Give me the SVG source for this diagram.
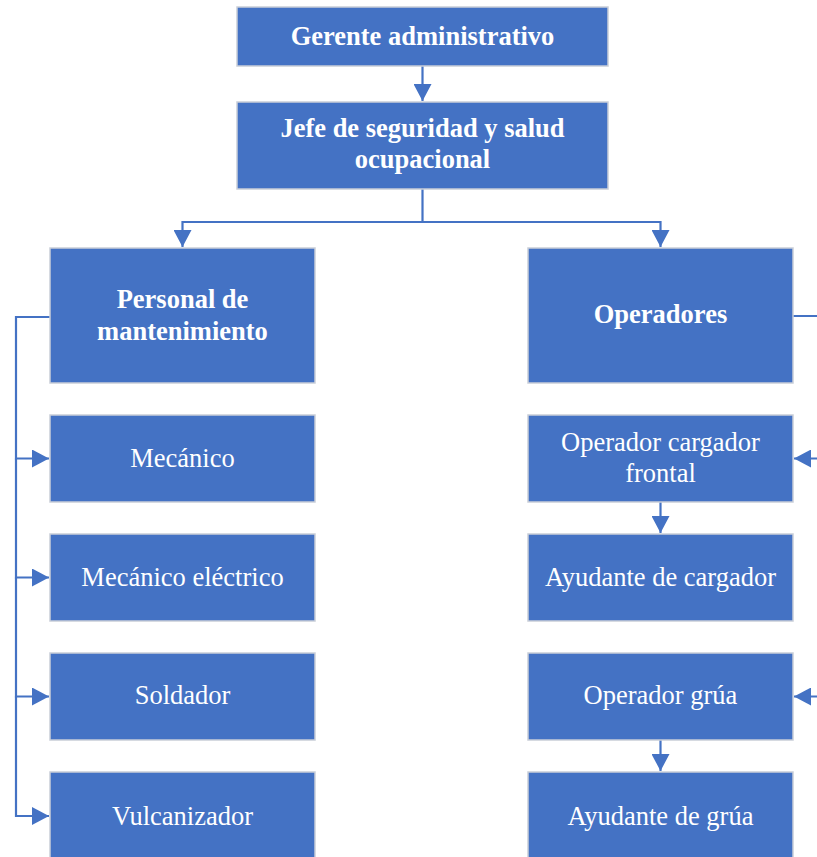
<svg xmlns="http://www.w3.org/2000/svg" width="817" height="857" viewBox="0 0 817 857">
<style>
.box{fill:#4472C4;stroke:#C9CED8;stroke-width:1.5}
.t{font-size:26.5px;fill:#FFFFFF;text-anchor:middle}
.b{font-weight:bold}
.c{fill:none;stroke:#4472C4;stroke-width:2.2}
</style>
<defs>
<marker id="ah" markerUnits="userSpaceOnUse" markerWidth="18" markerHeight="18" viewBox="0 0 18 18" refX="17" refY="9" orient="auto">
<path d="M0,0 L17,9 L0,18 Z" fill="#4472C4"/>
</marker>
</defs>
<g id="connectors">
<path class="c" d="M422.5,66 V101" marker-end="url(#ah)"/>
<path class="c" d="M422.5,189 V222 H182.5 V247" marker-end="url(#ah)"/>
<path class="c" d="M422.5,222 H660.5 V247" marker-end="url(#ah)"/>
<path class="c" d="M50,317 H16 V458.5 H49" marker-end="url(#ah)"/>
<path class="c" d="M16,458.5 V577.5 H49" marker-end="url(#ah)"/>
<path class="c" d="M16,577.5 V696.5 H49" marker-end="url(#ah)"/>
<path class="c" d="M16,696.5 V816 H49" marker-end="url(#ah)"/>
<path class="c" d="M793,316 H830 V458.5 H794" marker-end="url(#ah)"/>
<path class="c" d="M830,458.5 V696.5 H794" marker-end="url(#ah)"/>
<path class="c" d="M660.5,502 V533" marker-end="url(#ah)"/>
<path class="c" d="M660.5,740 V771" marker-end="url(#ah)"/>
</g>
<g font-family="Liberation Serif, Times New Roman, serif">
<g id="gerente"><rect class="box" x="237" y="7" width="371" height="59"/><text class="t b" x="422.5" y="45">Gerente administrativo</text></g>
<g id="jefe"><rect class="box" x="237" y="102" width="371" height="87"/><text class="t b" x="422.5" y="137">Jefe de seguridad y salud</text><text class="t b" x="422.5" y="168">ocupacional</text></g>
<g id="personal"><rect class="box" x="50" y="248" width="265" height="135"/><text class="t b" x="182.5" y="308">Personal de</text><text class="t b" x="182.5" y="340">mantenimiento</text></g>
<g id="operadores"><rect class="box" x="528" y="248" width="265" height="135"/><text class="t b" x="660.5" y="323">Operadores</text></g>
<g id="mecanico"><rect class="box" x="50" y="415" width="265" height="87"/><text class="t" x="182.5" y="467">Mecánico</text></g>
<g id="mecanico-electrico"><rect class="box" x="50" y="534" width="265" height="87"/><text class="t" x="182.5" y="586">Mecánico eléctrico</text></g>
<g id="soldador"><rect class="box" x="50" y="653" width="265" height="87"/><text class="t" x="182.5" y="704">Soldador</text></g>
<g id="vulcanizador"><rect class="box" x="50" y="772" width="265" height="90"/><text class="t" x="182.5" y="825">Vulcanizador</text></g>
<g id="operador-cargador"><rect class="box" x="528" y="415" width="265" height="87"/><text class="t" x="660.5" y="451">Operador cargador</text><text class="t" x="660.5" y="482">frontal</text></g>
<g id="ayudante-cargador"><rect class="box" x="528" y="534" width="265" height="87"/><text class="t" x="660.5" y="586">Ayudante de cargador</text></g>
<g id="operador-grua"><rect class="box" x="528" y="653" width="265" height="87"/><text class="t" x="660.5" y="704">Operador grúa</text></g>
<g id="ayudante-grua"><rect class="box" x="528" y="772" width="265" height="90"/><text class="t" x="660.5" y="825">Ayudante de grúa</text></g>
</g>
</svg>
